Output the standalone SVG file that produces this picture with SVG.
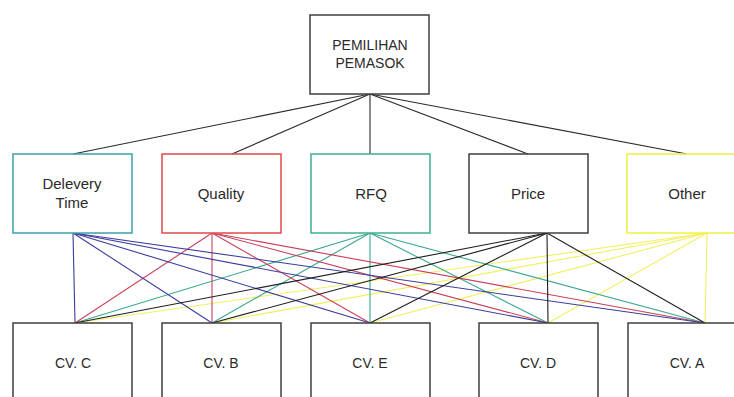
<svg xmlns="http://www.w3.org/2000/svg" width="734" height="397" viewBox="0 0 734 397">
<style>
.box{fill:#fff;stroke-width:1.5}
.t{font-family:"Liberation Sans",Arial,sans-serif;fill:#2a2a2a;text-anchor:middle;font-size:15px}
.tc{font-size:14px}
.dk{stroke:#3f3f3f}
.ln{fill:none;stroke-width:1.1}
.cd{stroke:#3c3c9c}
.cq{stroke:#c8405a}
.cr{stroke:#3aa88e}
.cp{stroke:#1e1e1e}
.co{stroke:#f2f060}
.top{stroke:#2a2a2a;stroke-width:1.1;fill:none}
</style>
<rect width="734" height="397" fill="#fff"/>
<g id="connectors">
  <g class="top">
    <line x1="370" y1="94" x2="73" y2="154"/>
    <line x1="370" y1="94" x2="232" y2="154"/>
    <line x1="370" y1="94" x2="370" y2="154"/>
    <line x1="370" y1="94" x2="528" y2="154"/>
    <line x1="370" y1="94" x2="687" y2="154"/>
  </g>
  <g class="ln co">
    <line x1="707" y1="233" x2="75" y2="323"/>
    <line x1="707" y1="233" x2="212" y2="323"/>
    <line x1="707" y1="233" x2="370" y2="323"/>
    <line x1="707" y1="233" x2="548" y2="323"/>
    <line x1="707" y1="233" x2="705" y2="323"/>
  </g>
  <g class="ln cr">
    <line x1="370" y1="233" x2="75" y2="323"/>
    <line x1="370" y1="233" x2="212" y2="323"/>
    <line x1="370" y1="233" x2="370" y2="323"/>
    <line x1="370" y1="233" x2="548" y2="323"/>
    <line x1="370" y1="233" x2="705" y2="323"/>
  </g>
  <g class="ln cq">
    <line x1="212" y1="233" x2="75" y2="323"/>
    <line x1="212" y1="233" x2="212" y2="323"/>
    <line x1="212" y1="233" x2="370" y2="323"/>
    <line x1="212" y1="233" x2="548" y2="323"/>
    <line x1="212" y1="233" x2="705" y2="323"/>
  </g>
  <g class="ln cd">
    <line x1="73" y1="233" x2="75" y2="323"/>
    <line x1="73" y1="233" x2="212" y2="323"/>
    <line x1="73" y1="233" x2="370" y2="323"/>
    <line x1="73" y1="233" x2="548" y2="323"/>
    <line x1="73" y1="233" x2="705" y2="323"/>
  </g>
  <g class="ln cp">
    <line x1="547" y1="233" x2="75" y2="323"/>
    <line x1="547" y1="233" x2="212" y2="323"/>
    <line x1="547" y1="233" x2="370" y2="323"/>
    <line x1="547" y1="233" x2="548" y2="323"/>
    <line x1="547" y1="233" x2="705" y2="323"/>
  </g>
</g>
<g id="pemilihan">
  <rect class="box dk" x="310" y="15" width="119" height="79"/>
  <text class="t tc" x="370" y="50">PEMILIHAN</text>
  <text class="t tc" x="370" y="68">PEMASOK</text>
</g>
<g id="delivery">
  <rect class="box" stroke="#3aa0aa" x="13" y="154" width="119" height="79"/>
  <text class="t" x="72" y="189">Delevery</text>
  <text class="t" x="72" y="208">Time</text>
</g>
<g id="quality">
  <rect class="box" stroke="#e24a4a" x="162" y="154" width="119" height="79"/>
  <text class="t" x="221" y="199">Quality</text>
</g>
<g id="rfq">
  <rect class="box" stroke="#3cb090" x="311" y="154" width="119" height="79"/>
  <text class="t" x="371" y="199">RFQ</text>
</g>
<g id="price">
  <rect class="box dk" x="469" y="154" width="119" height="79"/>
  <text class="t" x="528" y="199">Price</text>
</g>
<g id="other">
  <rect class="box" stroke="#f0f040" x="627" y="154" width="119" height="79"/>
  <text class="t" x="687" y="199">Other</text>
</g>
<g id="cvc">
  <rect class="box dk" x="13" y="323" width="119" height="90"/>
  <text class="t tc" x="73" y="368">CV. C</text>
</g>
<g id="cvb">
  <rect class="box dk" x="162" y="323" width="119" height="90"/>
  <text class="t tc" x="221" y="368">CV. B</text>
</g>
<g id="cve">
  <rect class="box dk" x="311" y="323" width="119" height="90"/>
  <text class="t tc" x="370" y="368">CV. E</text>
</g>
<g id="cvd">
  <rect class="box dk" x="479" y="323" width="119" height="90"/>
  <text class="t tc" x="538" y="368">CV. D</text>
</g>
<g id="cva">
  <rect class="box dk" x="628" y="323" width="119" height="90"/>
  <text class="t tc" x="687" y="368">CV. A</text>
</g>
</svg>
